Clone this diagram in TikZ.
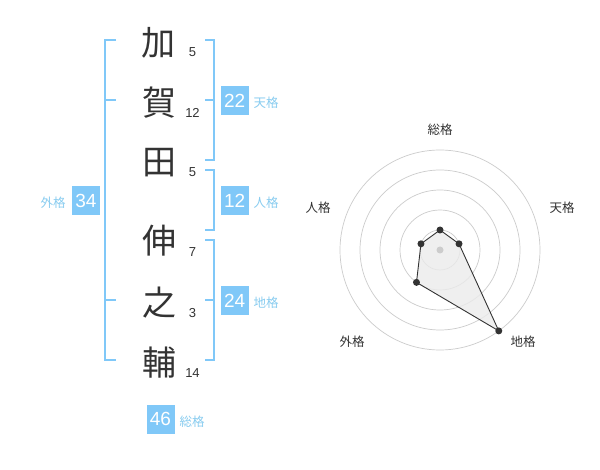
\documentclass[tikz,border=0pt]{standalone}
\usepackage{fontspec}
\setmainfont{Liberation Sans}
\newfontfamily\jp{Noto Sans CJK JP}
\definecolor{kblue}{HTML}{80C8F8}
\definecolor{lblue}{HTML}{88CCF0}
\definecolor{ink}{HTML}{333333}
\definecolor{ringc}{HTML}{CCCCCC}
\definecolor{fillc}{HTML}{EBEBEB}
\tikzset{
 kanji/.style={font=\jp\fontsize{34}{34}\selectfont, text=ink, inner sep=0},
 strokes/.style={font=\fontsize{13}{13}\selectfont, text=ink, inner sep=0},
 numbox/.style={fill=kblue, text=white, font=\fontsize{19}{19}\selectfont, minimum width=28, minimum height=29, inner sep=0},
 kaku/.style={font=\jp\fontsize{12.5}{12.5}\selectfont, text=lblue, inner sep=0},
 bracket/.style={draw=kblue, line width=2},
 ring/.style={draw=ringc, line width=0.7},
 rlabel/.style={font=\jp\fontsize{12.5}{12.5}\selectfont, text=ink, inner sep=0},
 vdot/.style={circle, fill=ink, inner sep=0, minimum size=7},
}
\begin{document}
\begin{tikzpicture}[x=1pt,y=-1pt]
\useasboundingbox[fill=white] (0,0) rectangle (600,470);
% kanji
\node[kanji] (k1) at (158.5,43) {加};
\node[kanji] (k2) at (159,103) {賀};
\node[kanji] (k3) at (159,163) {田};
\node[kanji] (k4) at (159,241) {伸};
\node[kanji] (k5) at (159,303) {之};
\node[kanji] (k6) at (159,363) {輔};
% stroke counts
\node[strokes] (s1) at (192.5,52.5) {5};
\node[strokes] (s2) at (192.5,112.5) {12};
\node[strokes] (s3) at (192.5,172.5) {5};
\node[strokes] (s4) at (192.5,252.5) {7};
\node[strokes] (s5) at (192.5,313) {3};
\node[strokes] (s6) at (192.5,373) {14};
% brackets
\draw[bracket] (116,40) -- (105,40) -- (105,360) -- (116,360);
\draw[bracket] (105,100) -- (116,100);
\draw[bracket] (105,300) -- (116,300);
\draw[bracket] (205,40) -- (214,40) -- (214,160) -- (205,160);
\draw[bracket] (214,100) -- (205,100);
\draw[bracket] (205,170) -- (214,170) -- (214,230) -- (205,230);
\draw[bracket] (205,240) -- (214,240) -- (214,360) -- (205,360);
\draw[bracket] (214,300) -- (205,300);
% boxes
\node[numbox] (ten) at (234.7,100.5) {22};
\node[kaku] (tenl) at (266,103) {天格};
\node[numbox] (jin) at (234.7,200.5) {12};
\node[kaku] (jinl) at (266,203) {人格};
\node[numbox] (chi) at (234.7,300.5) {24};
\node[kaku] (chil) at (266,303) {地格};
\node[numbox] (gai) at (86,200.5) {34};
\node[kaku] (gail) at (53,203) {外格};
\node[numbox] (sou) at (160.5,419) {46};
\node[kaku] (soul) at (192,421.5) {総格};
% radar
\coordinate (C) at (440,250);
\foreach \r in {20,40,60,80,100} \draw[ring] (C) circle (\r);
\coordinate (pS) at (440,230);
\coordinate (pT) at (459.02,243.82);
\coordinate (pC) at (498.78,330.90);
\coordinate (pG) at (416.49,282.36);
\coordinate (pJ) at (420.98,243.82);
\fill[fillc, opacity=0.8] (pS) -- (pT) -- (pC) -- (pG) -- (pJ) -- cycle;
\fill[ringc] (C) circle (3.5);
\draw[ink, line width=0.9, line join=round] (pS) -- (pT) -- (pC) -- (pG) -- (pJ) -- cycle;
\foreach \p in {pS,pT,pC,pG,pJ} \node[vdot] at (\p) {};
\node[rlabel] (lS) at (440,130) {総格};
\node[rlabel] (lT) at (562,208) {天格};
\node[rlabel] (lJ) at (318,208) {人格};
\node[rlabel] (lG) at (352,342) {外格};
\node[rlabel] (lC) at (523,342) {地格};
\end{tikzpicture}
\end{document}
